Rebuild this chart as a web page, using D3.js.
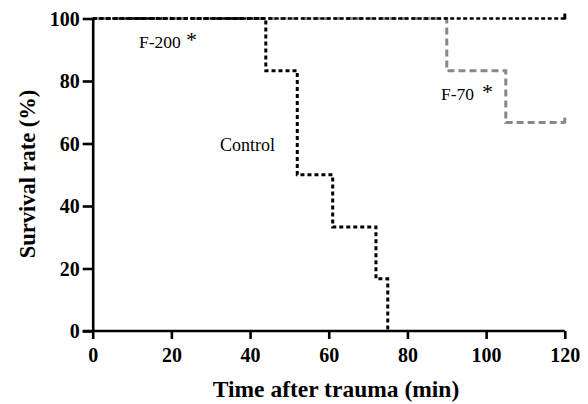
<!DOCTYPE html>
<html><head><meta charset="utf-8">
<script src="https://cdn.jsdelivr.net/npm/d3@7"></script>
<style>body{margin:0;background:#fff}</style>
</head><body>
<script>
const xTicks = [0, 20, 40, 60, 80, 100, 120];
const yTicks = [0, 20, 40, 60, 80, 100];
// Kaplan-Meier step points: [time, survival %]
const controlTimes = [0, 44, 52, 61, 72, 75];
const controlSurv  = [100, 83.3, 50, 33.3, 16.7, 0];
const f200Times = [0, 120];
const f200Surv  = [100, 100];
const f70Times = [0, 90, 105, 120];
const f70Surv  = [100, 83.3, 66.7, 66.7];

const W = 588, H = 404;
const svg = d3.select("body").append("svg").attr("width", W).attr("height", H);
const x = d3.scaleLinear().domain([0, 120]).range([92.7, 564.8]);
const y = d3.scaleLinear().domain([0, 100]).range([331, 18.5]);
const font = "'Liberation Serif', 'Times New Roman', serif";

function pts(t, s) { return t.map((d, i) => [d, s[i]]); }
const line = d3.line().x(d => x(d[0])).y(d => y(d[1])).curve(d3.curveStepAfter);

// F-70 (drawn first, hidden under F-200 along the top)
const f70 = pts(f70Times, f70Surv);
svg.append("path").datum(f70).attr("d", line)
  .attr("fill", "none").attr("stroke", "#888").attr("stroke-width", 3)
  .attr("stroke-dasharray", "7,4");
// F-200
svg.append("path").datum(pts(f200Times, f200Surv)).attr("d", line)
  .attr("fill", "none").attr("stroke", "#000").attr("stroke-width", 2.4)
  .attr("stroke-dasharray", "4,2.5");
// Control
const ctrl = pts(controlTimes, controlSurv);
svg.append("path").datum(ctrl).attr("d", line)
  .attr("fill", "none").attr("stroke", "#000").attr("stroke-width", 3)
  .attr("stroke-dasharray", "4,3");

// censor ticks at end
svg.append("line").attr("x1", x(120)).attr("x2", x(120)).attr("y1", y(100) - 5).attr("y2", y(100) + 1)
  .attr("stroke", "#000").attr("stroke-width", 3);
svg.append("line").attr("x1", x(120)).attr("x2", x(120)).attr("y1", y(66.7) - 5).attr("y2", y(66.7) + 1)
  .attr("stroke", "#888").attr("stroke-width", 3);

// Axes
const xAxis = svg.append("g").attr("transform", `translate(0,${y(0)})`)
  .call(d3.axisBottom(x).tickValues(xTicks).tickSize(8).tickSizeOuter(0).tickPadding(9));
const yAxis = svg.append("g").attr("transform", `translate(${x(0)},0)`)
  .call(d3.axisLeft(y).tickValues(yTicks).tickSize(10).tickSizeOuter(0).tickPadding(3));
[xAxis, yAxis].forEach(g => {
  g.select(".domain").attr("stroke", "#000").attr("stroke-width", 2.6);
  g.selectAll(".tick line").attr("stroke", "#000").attr("stroke-width", 2.6);
  g.selectAll(".tick text").attr("fill", "#000").attr("font-family", null)
    .style("font-family", font).style("font-weight", "bold").style("font-size", "20px");
});
xAxis.attr("font-family", null);
yAxis.attr("font-family", null);
xAxis.select(".domain").attr("d", `M${x(0) - 10},0H${x(120)}`);
xAxis.selectAll(".tick text").attr("dy", "0.71em");
yAxis.selectAll(".tick text").attr("dy", "0.34em");

// Axis titles
svg.append("text").attr("x", 336).attr("y", 397).attr("text-anchor", "middle")
  .style("font-family", font).style("font-weight", "bold").style("font-size", "23.5px")
  .text("Time after trauma (min)");
svg.append("text").attr("transform", "translate(35,174) rotate(-90)").attr("text-anchor", "middle")
  .style("font-family", font).style("font-weight", "bold").style("font-size", "22.5px")
  .text("Survival rate (%)");

// Series labels
function label(tx, tyy, txt, size) {
  svg.append("text").attr("x", tx).attr("y", tyy)
    .style("font-family", font).style("font-size", size + "px").text(txt);
}
label(139, 48, "F-200", 17.5);
label(220, 151, "Control", 18);
label(441, 100, "F-70", 17.5);
label(186, 47, "*", 22);
label(482, 99, "*", 22);
</script>
</body></html>
